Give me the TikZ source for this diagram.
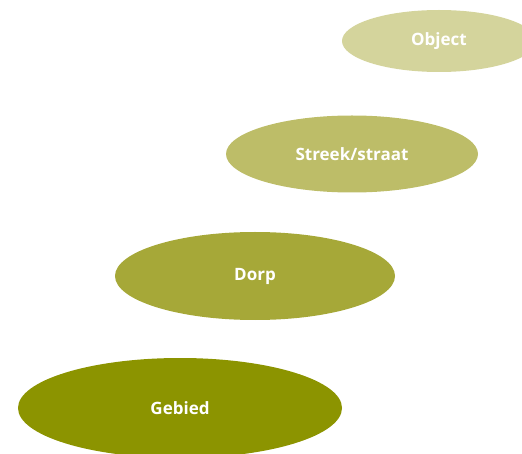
\documentclass[tikz,border=0pt]{standalone}
\usepackage{fontspec}
\setmainfont{Open Sans}
\usepackage{tikz}
\usetikzlibrary{shapes.geometric, positioning}
\definecolor{objectgreen}{RGB}{212,212,156}
\definecolor{streekgreen}{RGB}{189,189,104}
\definecolor{dorpgreen}{RGB}{166,168,56}
\definecolor{gebiedgreen}{RGB}{140,148,0}
\tikzstyle{level} = [ellipse, inner sep=0pt, text=white, font=\bfseries\fontsize{17}{20}\selectfont]

\begin{document}
\begin{tikzpicture}[x=1pt,y=-1pt]
  \useasboundingbox (0,0) rectangle (522,454);
  \clip (0,0) rectangle (522,454);
  \node [level, fill=objectgreen, minimum width=194pt, minimum height=62pt] (object) at (439,41) {Object};
  \node [level, fill=streekgreen, minimum width=252pt, minimum height=77pt] (streek) at (352,154) {Streek/straat};
  \node [level, fill=dorpgreen, minimum width=280pt, minimum height=88pt] (dorp) at (255,276) {Dorp};
  \node [level, fill=gebiedgreen, minimum width=324pt, minimum height=100pt] (gebied) at (180,408) {Gebied};
\end{tikzpicture}
\end{document}
